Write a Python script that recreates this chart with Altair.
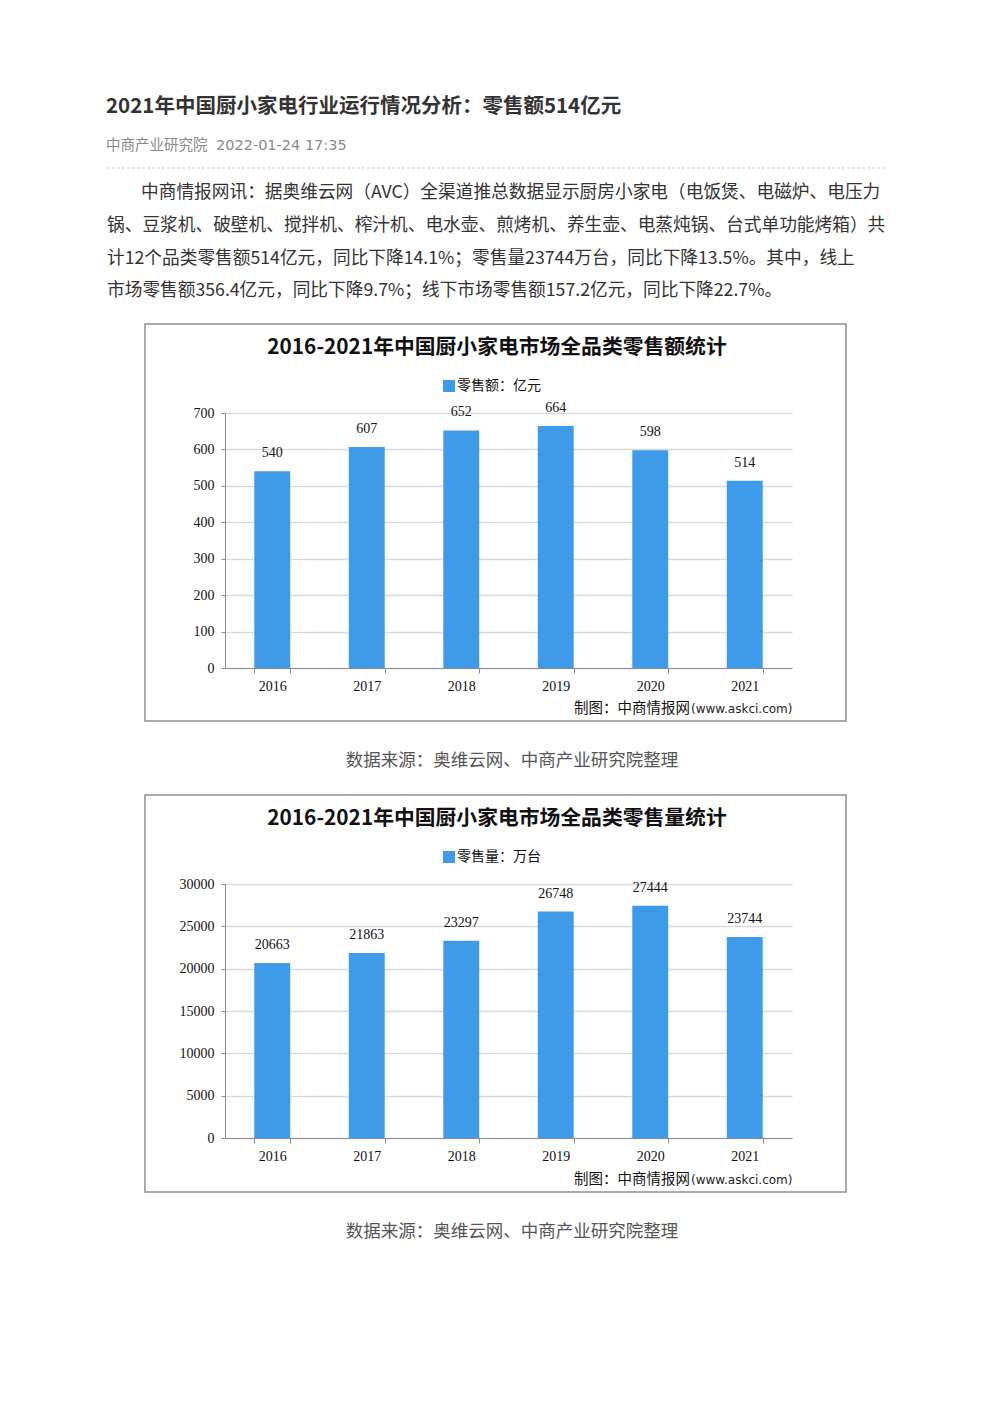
import altair as alt
import pandas as pd

CJK = "Noto Sans CJK SC"
NUM = "Liberation Serif"
BLUE = "#3d9be9"
AXIS_GRAY = "#8c8c8c"
INK = "#111111"

# ---------------- text content ----------------
article_title = "2021年中国厨小家电行业运行情况分析：零售额514亿元"
meta_source = "中商产业研究院"
meta_date = "2022-01-24 17:35"
paragraph_lines = [
    "中商情报网讯：据奥维云网（AVC）全渠道推总数据显示厨房小家电（电饭煲、电磁炉、电压力",
    "锅、豆浆机、破壁机、搅拌机、榨汁机、电水壶、煎烤机、养生壶、电蒸炖锅、台式单功能烤箱）共",
    "计12个品类零售额514亿元，同比下降14.1%；零售量23744万台，同比下降13.5%。其中，线上",
    "市场零售额356.4亿元，同比下降9.7%；线下市场零售额157.2亿元，同比下降22.7%。",
]

# ---------------- chart data ----------------
years = ["2016", "2017", "2018", "2019", "2020", "2021"]
sales_values = [540, 607, 652, 664, 598, 514]               # 亿元
volume_values = [20663, 21863, 23297, 26748, 27444, 23744]  # 万台

chart1_title = "2016-2021年中国厨小家电市场全品类零售额统计"
chart2_title = "2016-2021年中国厨小家电市场全品类零售量统计"
legend1 = "零售额：亿元"
legend2 = "零售量：万台"
credit_cn = "制图：中商情报网"
credit_url = "(www.askci.com)"
source_text = "数据来源：奥维云网、中商产业研究院整理"

one = pd.DataFrame({"k": [0]})


def text_layer(txt, x, y, **kw):
    return alt.Chart(one).mark_text(text=txt, **kw).encode(x=alt.value(x), y=alt.value(y))


# ---------------- header (drawn in the column of the plots, offsets relative to it) ----------------
header_layers = [
    text_layer(article_title, -119, 99, align="left", baseline="middle", font=CJK,
               fontSize=20.5, fontWeight="bold", color="#333333"),
    text_layer(meta_source, -119, 138, align="left", baseline="middle", font=CJK,
               fontSize=14.5, color="#8a8a8a"),
    text_layer(meta_date, -9, 138, align="left", baseline="middle", font="DejaVu Sans",
               fontSize=14.5, color="#8a8a8a"),
    alt.Chart(one).mark_rule(color="#cccccc", strokeDash=[3, 2], strokeWidth=1).encode(
        x=alt.value(-118), x2=alt.value(660), y=alt.value(160)),
]
line_x = [-84, -118, -118, -118]
line_y = [185, 218, 251, 283]
for t, lx, ly in zip(paragraph_lines, line_x, line_y):
    header_layers.append(text_layer(t, lx, ly, align="left", baseline="middle", font=CJK,
                                    fontSize=17.7, color="#333333"))
header = alt.layer(*header_layers).properties(width=567, height=405)


# ---------------- bar panels ----------------
def bar_panel(values, ymax, ystep, title, legend_label, height):
    df = pd.DataFrame({"year": years, "value": values})
    base = alt.Chart(df)
    x_enc = alt.X(
        "year:N", sort=years,
        scale=alt.Scale(paddingInner=0.62, paddingOuter=0.31),
        axis=alt.Axis(title=None, labelAngle=0, tickBand="extent", grid=False,
                      domainColor=AXIS_GRAY, tickColor=AXIS_GRAY, tickSize=5,
                      labelPadding=6, labelFont=NUM, labelFontSize=14, labelColor=INK),
    )
    y_enc = alt.Y(
        "value:Q",
        scale=alt.Scale(domain=[0, ymax], nice=False, zero=True),
        axis=alt.Axis(title=None, values=list(range(0, ymax + 1, ystep)), format="d",
                      labelOverlap=False, grid=True, gridColor="#d9d9d9", gridWidth=1.5,
                      domainColor=AXIS_GRAY, tickColor=AXIS_GRAY, tickSize=4,
                      labelPadding=7, labelFont=NUM, labelFontSize=14, labelColor=INK),
    )
    frame = alt.Chart(one).mark_rect(fill="#ffffff", fillOpacity=0, stroke="#8f8f8f",
                                     strokeWidth=1.5).encode(
        x=alt.value(-80), x2=alt.value(621), y=alt.value(-89), y2=alt.value(308))
    bars = base.mark_bar(color=BLUE).encode(x=x_enc, y=y_enc)
    labels = base.mark_text(dy=-18, baseline="middle", font=NUM, fontSize=14,
                            color=INK).encode(
        x=x_enc, y=y_enc, text=alt.Text("value:Q", format="d"))
    legend_sq = alt.Chart(one).mark_square(size=144, color=BLUE, opacity=1).encode(
        x=alt.value(224), y=alt.value(-27))
    legend_tx = text_layer(legend_label, 232, -27, align="left", baseline="middle", font=CJK,
                           fontSize=14, color=INK)
    t_title = text_layer(title, 272, -65, align="center", baseline="middle", font=CJK,
                         fontSize=20.8, fontWeight="bold", color=INK)
    t_c1 = text_layer(credit_cn, 465, 296, align="right", baseline="middle", font=CJK,
                      fontSize=14.5, color=INK)
    t_c2 = text_layer(credit_url, 466, 296, align="left", baseline="middle", font="DejaVu Sans",
                      fontSize=12, color="#222222")
    t_src = text_layer(source_text, 287, 348, align="center", baseline="middle", font=CJK,
                       fontSize=17.5, color="#555555")
    return alt.layer(frame, bars, labels, legend_sq, legend_tx, t_title, t_c1, t_c2,
                     t_src).properties(width=567, height=height)


def spacer(w, h):
    return alt.Chart(one).mark_point(opacity=0, size=1).encode(
        x=alt.value(5), y=alt.value(5)).properties(width=w, height=h)


panel1 = bar_panel(sales_values, 700, 100, chart1_title, legend1, 255)
panel2 = bar_panel(volume_values, 30000, 5000, chart2_title, legend2, 254)

chart = alt.concat(
    spacer(217, 405), header,
    spacer(217, 255), panel1,
    spacer(217, 216), spacer(567, 216),
    spacer(217, 254), panel2,
    columns=2, spacing=0, bounds="flush",
).properties(padding=0, background="#ffffff").configure_view(stroke=None)

chart.save("out.html", embed_options={"renderer": "svg", "actions": False})
